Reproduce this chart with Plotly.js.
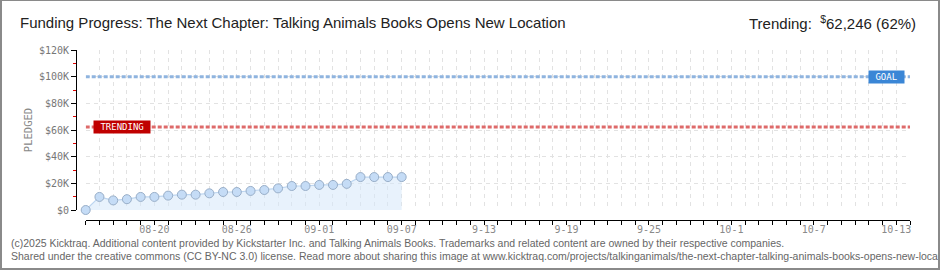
<!DOCTYPE html>
<html>
<head>
<meta charset="utf-8">
<script src="https://cdn.plot.ly/plotly-3.0.1.min.js"></script>
<style>
  html, body { margin: 0; padding: 0; background: #fff; }
  #frame { width: 940px; height: 270px; box-sizing: border-box; border: 1px solid #8a8a8a; border-width: 1px 2px 2px 2px; position: relative; overflow: hidden; }
  #chart { position: absolute; left: -2px; top: -1px; width: 940px; height: 270px; }
</style>
</head>
<body>
<div id="frame"><div id="chart"></div></div>
<script>
// ---- data ----
const dates = [
  '2025-08-15','2025-08-16','2025-08-17','2025-08-18','2025-08-19','2025-08-20',
  '2025-08-21','2025-08-22','2025-08-23','2025-08-24','2025-08-25','2025-08-26',
  '2025-08-27','2025-08-28','2025-08-29','2025-08-30','2025-08-31','2025-09-01',
  '2025-09-02','2025-09-03','2025-09-04','2025-09-05','2025-09-06','2025-09-07'
];
const pledged = [
  0, 9800, 7200, 8100, 9800, 9800,
  10800, 11500, 11500, 12500, 13500, 13500,
  14300, 15000, 16200, 18000, 18000, 18800,
  18800, 19600, 24700, 24700, 24700, 24700
];
const goal = 100000;
const trending = 62246;
const trendingPct = 62;
const xStart = '2025-08-15';
const xEnd = '2025-10-14';
const tickDates = ['2025-08-20','2025-08-26','2025-09-01','2025-09-07','2025-09-13','2025-09-19','2025-09-25','2025-10-01','2025-10-07','2025-10-13'];
const tickLabels = ['08-20','08-26','09-01','09-07','9-13','9-19','9-25','10-1','10-7','10-13'];
const yTickVals = [0, 20000, 40000, 60000, 80000, 100000, 120000];
const yTickLabels = ['$0','$20K','$40K','$60K','$80K','$100K','$120K'];
const titleText = 'Funding Progress: The Next Chapter: Talking Animals Books Opens New Location';
const footer1 = '(c)2025 Kicktraq. Additional content provided by Kickstarter Inc. and Talking Animals Books. Trademarks and related content are owned by their respective companies.';
const footer2 = 'Shared under the creative commons (CC BY-NC 3.0) license. Read more about sharing this image at www.kicktraq.com/projects/talkinganimals/the-next-chapter-talking-animals-books-opens-new-location/';

const pix = 'DejaVu Sans Mono, monospace';
const head = 'Liberation Sans, Arial, sans-serif';

const traces = [
  { x: [xStart, xEnd], y: [goal, goal], mode: 'lines', hoverinfo: 'skip',
    line: { color: '#8fb4df', width: 3, dash: '4px,2px' } },
  { x: [xStart, xEnd], y: [trending, trending], mode: 'lines', hoverinfo: 'skip',
    line: { color: '#de6a6a', width: 3, dash: '4px,2px' } },
  { x: dates, y: pledged, mode: 'lines+markers', fill: 'tozeroy', cliponaxis: false,
    fillcolor: 'rgba(214,231,250,0.55)',
    line: { color: '#bcd5f0', width: 1.2 },
    marker: { size: 9, color: '#c5dcf6', line: { color: '#98aec8', width: 1 } } }
];

const fmt = n => n.toLocaleString('en-US');
const pad = s => '&nbsp;' + s + '&nbsp;';

const layout = {
  width: 940, height: 270,
  margin: { l: 76, r: 30, t: 50, b: 50 },
  paper_bgcolor: '#fff', plot_bgcolor: '#fff',
  showlegend: false,
  title: { text: titleText, xref: 'container', yref: 'container', x: 20/940, xanchor: 'left',
           y: 1 - 23/270, yanchor: 'middle', font: { family: head, size: 15, color: '#222' } },
  xaxis: {
    type: 'date', range: [xStart, xEnd], domain: [9.7/834, 1], anchor: 'free', position: 0,
    tickmode: 'array', tickvals: tickDates, ticktext: tickLabels,
    ticks: 'outside', ticklen: 4, tickcolor: '#000', tickwidth: 1,
    ticklabelstandoff: -4,
    showline: true, linecolor: '#000', linewidth: 1,
    showgrid: true, gridcolor: '#e2e2e2', griddash: '4px,4px', gridwidth: 1,
    zeroline: false,
    tickfont: { family: pix, size: 10, color: '#8a8a8a' },
    minor: { dtick: 86400000, tick0: xStart, ticks: 'outside', ticklen: 4, tickcolor: '#000',
             showgrid: true, gridcolor: '#e2e2e2', griddash: '4px,4px', gridwidth: 1 }
  },
  yaxis: {
    range: [0, 120000], domain: [10/170, 1], anchor: 'free', position: 0,
    tickmode: 'array', tickvals: yTickVals, ticktext: yTickLabels,
    ticks: 'outside', ticklen: 5, tickcolor: '#000',
    showline: true, linecolor: '#000', linewidth: 1,
    showgrid: true, gridcolor: '#e2e2e2', griddash: '4px,4px', gridwidth: 1,
    zeroline: false,
    tickfont: { family: pix, size: 10, color: '#777' },
    title: { text: 'PLEDGED', font: { family: pix, size: 10.5, color: '#888' }, standoff: 3 },
    minor: { dtick: 10000, tick0: 0, ticks: 'outside', ticklen: 3, tickcolor: '#e00000', showgrid: false }
  },
  annotations: [
    { xref: 'x', yref: 'y', x: '2025-08-15 12:00', y: trending, xanchor: 'left', yanchor: 'middle',
      text: pad('TRENDING'), showarrow: false, bgcolor: '#c00000', borderpad: 1,
      font: { family: pix, size: 9, color: '#fff' } },
    { xref: 'x', yref: 'y', x: '2025-10-13 15:00', y: goal, xanchor: 'right', yanchor: 'middle',
      text: pad('GOAL'), showarrow: false, bgcolor: '#3a86d6', borderpad: 1,
      font: { family: pix, size: 9, color: '#fff' } },
    { xref: 'paper', yref: 'paper', x: (918-76)/834, y: (220-23)/170, xanchor: 'right', yanchor: 'middle',
      text: 'Trending:  <sup>$</sup>' + fmt(trending) + ' (' + trendingPct + '%)', showarrow: false,
      font: { family: head, size: 15, color: '#222' } },
    { xref: 'paper', yref: 'paper', x: (9-76)/834, y: (220-243)/170, xanchor: 'left', yanchor: 'middle',
      text: footer1, showarrow: false, font: { family: head, size: 10.5, color: '#666' } },
    { xref: 'paper', yref: 'paper', x: (9-76)/834, y: (220-256)/170, xanchor: 'left', yanchor: 'middle',
      text: footer2, showarrow: false, font: { family: head, size: 10.5, color: '#666' } }
  ]
};

Plotly.newPlot('chart', traces, layout, { staticPlot: true, displayModeBar: false });
</script>
</body>
</html>
